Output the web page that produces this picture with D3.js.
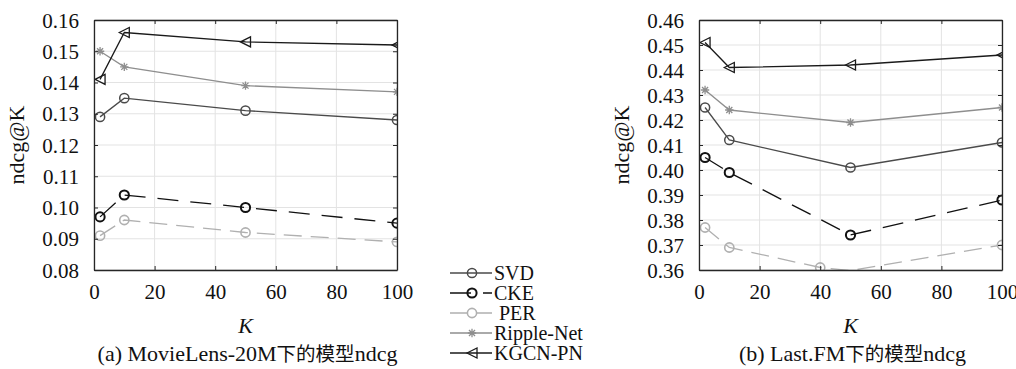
<!DOCTYPE html>
<html><head><meta charset="utf-8">
<script src="https://cdn.jsdelivr.net/npm/d3@7"></script>
<style>
html,body{margin:0;padding:0;background:#fff;}
svg text{font-family:"Liberation Serif","DejaVu Serif",serif;}
</style></head>
<body><svg id="c" width="1016" height="369"></svg>
<script>
// ---- data ----
const kValues = [2, 10, 50, 100];
const xTicks = [0, 20, 40, 60, 80, 100];
const seriesNames = ["SVD", "CKE", "PER", "Ripple-Net", "KGCN-PN"];

// (a) MovieLens-20M
const movieYTicks = [0.08, 0.09, 0.10, 0.11, 0.12, 0.13, 0.14, 0.15, 0.16];
const movieSVD = [0.129, 0.135, 0.131, 0.128];
const movieCKE = [0.097, 0.104, 0.100, 0.095];
const moviePER = [0.091, 0.096, 0.092, 0.089];
const movieRipple = [0.150, 0.145, 0.139, 0.137];
const movieKGCN = [0.141, 0.156, 0.153, 0.152];

// (b) Last.FM
const lastfmYTicks = [0.36, 0.37, 0.38, 0.39, 0.40, 0.41, 0.42, 0.43, 0.44, 0.45, 0.46];
const lastfmSVD = [0.425, 0.412, 0.401, 0.411];
const lastfmCKE = [0.405, 0.399, 0.374, 0.388];
const lastfmPERK = [2, 10, 40, 50, 100];
const lastfmPER = [0.377, 0.369, 0.361, 0.3598, 0.370];
const lastfmRipple = [0.432, 0.424, 0.419, 0.425];
const lastfmKGCN = [0.451, 0.441, 0.442, 0.446];

// ---- styles ----
const styles = {
  "SVD":        {color:"#4a4a4a", dash:null,   width:1.3, marker:"circle", mw:1.5},
  "CKE":        {color:"#111111", dash:"21,12", width:1.3, marker:"circle", mw:2.0},
  "PER":        {color:"#b0b0b0", dash:"18,9", width:1.3, marker:"circle", mw:1.6},
  "Ripple-Net": {color:"#8e8e8e", dash:null,   width:1.3, marker:"star",   mw:1.3},
  "KGCN-PN":    {color:"#1a1a1a", dash:null,   width:1.3, marker:"tri",    mw:1.3}
};

const svg = d3.select("#c");

function drawMarker(g, type, x, y, st) {
  if (type === "circle") {
    g.append("circle").attr("cx", x).attr("cy", y).attr("r", 4.6)
      .attr("fill", "none").attr("stroke", st.color).attr("stroke-width", st.mw);
  } else if (type === "tri") {
    const s = 5;
    g.append("path").attr("d", `M${x - s},${y}L${x + s},${y - s}L${x + s},${y + s}Z`)
      .attr("fill", "none").attr("stroke", st.color).attr("stroke-width", st.mw);
  } else if (type === "star") {
    const s = 4.2, d = s * 0.72;
    g.append("path").attr("d",
      `M${x - s},${y}L${x + s},${y}M${x},${y - s}L${x},${y + s}M${x - d},${y - d}L${x + d},${y + d}M${x - d},${y + d}L${x + d},${y - d}`)
      .attr("stroke", st.color).attr("stroke-width", st.mw);
  }
}

function panel(id, left, right, top, bottom, yTicks, series, caption) {
  const x = d3.scaleLinear().domain([0, 100]).range([left, right]);
  const y = d3.scaleLinear().domain([yTicks[0], yTicks[yTicks.length - 1]]).range([bottom, top]);
  const g = svg.append("g");
  // grid
  g.selectAll(".gx").data(xTicks).join("line")
    .attr("x1", d => x(d)).attr("x2", d => x(d)).attr("y1", top).attr("y2", bottom)
    .attr("stroke", "#e3e3e3").attr("stroke-width", 1);
  g.selectAll(".gy").data(yTicks).join("line")
    .attr("y1", d => y(d)).attr("y2", d => y(d)).attr("x1", left).attr("x2", right)
    .attr("stroke", "#e3e3e3").attr("stroke-width", 1);
  // clip
  const cid = "clip" + id;
  svg.append("defs").append("clipPath").attr("id", cid)
    .append("rect").attr("x", left).attr("y", top).attr("width", right - left).attr("height", bottom - top);
  const pg = g.append("g").attr("clip-path", `url(#${cid})`);
  const line = d3.line().x(d => x(d[0])).y(d => y(d[1]));
  series.forEach(s => {
    const st = styles[s.name];
    const pts = s.k.map((k, i) => [k, s.v[i]]);
    pg.append("path").attr("d", line(pts)).attr("fill", "none")
      .attr("stroke", st.color).attr("stroke-width", st.width)
      .attr("stroke-dasharray", st.dash);
    pts.forEach(p => {
      if (p[1] >= y.domain()[0] && p[1] <= y.domain()[1]) drawMarker(pg, st.marker, x(p[0]), y(p[1]), st);
    });
  });
  // axes via d3
  const ax = g.append("g").attr("transform", `translate(0,${bottom})`)
    .call(d3.axisBottom(x).tickValues(xTicks).tickSizeInner(-4).tickSizeOuter(0).tickPadding(14).tickFormat(d3.format("d")));
  const axT = g.append("g").attr("transform", `translate(0,${top})`)
    .call(d3.axisTop(x).tickValues(xTicks).tickSizeInner(-4).tickSizeOuter(0).tickFormat(""));
  const ay = g.append("g").attr("transform", `translate(${left},0)`)
    .call(d3.axisLeft(y).tickValues(yTicks).tickSizeInner(-4).tickSizeOuter(0).tickPadding(15).tickFormat(d3.format(".2f")));
  const ayR = g.append("g").attr("transform", `translate(${right},0)`)
    .call(d3.axisRight(y).tickValues(yTicks).tickSizeInner(-4).tickSizeOuter(0).tickFormat(""));
  [ax, axT, ay, ayR].forEach(a => {
    a.select(".domain").attr("stroke", "#262626").attr("stroke-width", 1.3);
    a.selectAll(".tick line").attr("stroke", "#262626").attr("stroke-width", 1);
    a.selectAll("text").attr("font-size", 21).attr("fill", "#111")
      .attr("font-family", "Liberation Serif, serif");
  });
  ay.selectAll("text").attr("dy", "0.34em");
  // y label
  g.append("text").attr("transform", `translate(${left - 70},${(top + bottom) / 2}) rotate(-90)`)
    .attr("text-anchor", "middle").attr("font-size", 22).attr("fill", "#111").text("ndcg@K");
  // x label
  g.append("text").attr("x", (left + right) / 2).attr("y", 333).attr("text-anchor", "middle")
    .attr("font-size", 22).attr("font-style", "italic").attr("fill", "#111").text("K");
  // caption
  const cap = g.append("text").attr("x", (left + right) / 2 + 2).attr("y", 361).attr("text-anchor", "middle")
    .attr("font-size", 22).attr("fill", "#111");
  caption.forEach(c => cap.append("tspan").attr("font-family", c.cjk ? "Noto Sans CJK SC" : "Liberation Serif, serif")
    .attr("font-size", c.cjk ? 19.5 : 22).text(c.t));
}

panel("a", 94, 397, 20, 270, movieYTicks, [
  {name:"SVD", k:kValues, v:movieSVD},
  {name:"CKE", k:kValues, v:movieCKE},
  {name:"PER", k:kValues, v:moviePER},
  {name:"Ripple-Net", k:kValues, v:movieRipple},
  {name:"KGCN-PN", k:kValues, v:movieKGCN}
], [{t:"(a) MovieLens-20M"}, {t:"下的模型", cjk:true}, {t:"ndcg"}]);

panel("b", 699, 1002, 20, 270, lastfmYTicks, [
  {name:"SVD", k:kValues, v:lastfmSVD},
  {name:"CKE", k:kValues, v:lastfmCKE},
  {name:"PER", k:lastfmPERK, v:lastfmPER},
  {name:"Ripple-Net", k:kValues, v:lastfmRipple},
  {name:"KGCN-PN", k:kValues, v:lastfmKGCN}
], [{t:"(b) Last.FM"}, {t:"下的模型", cjk:true}, {t:"ndcg"}]);

// legend
const lg = svg.append("g");
const legendY = d3.scalePoint().domain(seriesNames).range([273, 353]);
seriesNames.forEach(n => {
  const st = styles[n];
  const yy = legendY(n);
  lg.append("line").attr("x1", 450).attr("x2", 492).attr("y1", yy).attr("y2", yy)
    .attr("stroke", st.color).attr("stroke-width", st.width).attr("stroke-dasharray", st.dash);
  drawMarker(lg, st.marker, 472, yy, st);
  lg.append("text").attr("x", n === "PER" ? 499 : 494).attr("y", yy).attr("dy", "0.34em")
    .attr("font-size", 20).attr("fill", "#111").text(n);
});
</script></body></html>
